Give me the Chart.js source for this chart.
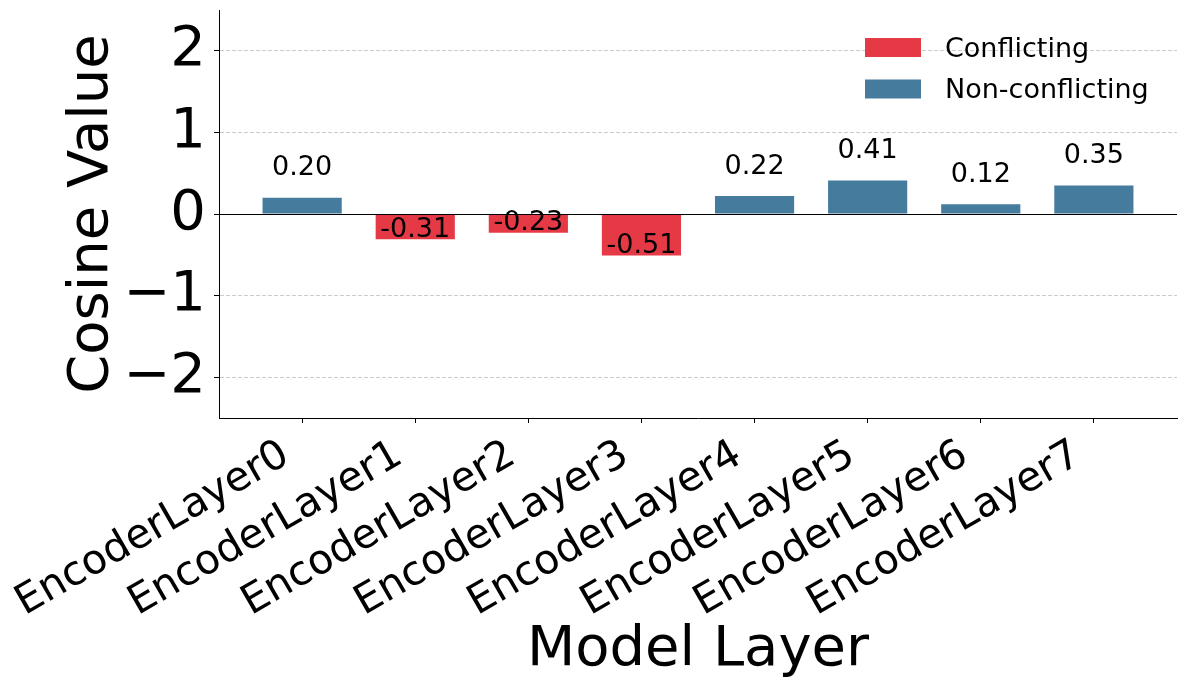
<!DOCTYPE html>
<html>
<head>
<meta charset="utf-8">
<script src="https://cdn.jsdelivr.net/npm/chart.js@4.4.1/dist/chart.umd.min.js"></script>
<style>
  html, body { margin: 0; padding: 0; background: #fff; }
  #wrap { width: 1187px; height: 690px; }
</style>
</head>
<body>
<div id="wrap"><canvas id="layerChart" width="1187" height="690"></canvas></div>
<script>
// ===== DATA =====
const categories = ['EncoderLayer0', 'EncoderLayer1', 'EncoderLayer2', 'EncoderLayer3',
                    'EncoderLayer4', 'EncoderLayer5', 'EncoderLayer6', 'EncoderLayer7'];
const conflicting    = [null, -0.31, -0.23, -0.51, null, null, null, null];
const nonConflicting = [0.20, null, null, null, 0.22, 0.41, 0.12, 0.35];
const yTicks = [-2, -1, 0, 1, 2];

const FONT = "'DejaVu Sans', sans-serif";
const RED = '#e63946';
const BLUE = '#457b9d';

const toPoints = arr => arr.map((v, i) => ({ x: i, y: v })).filter(p => p.y !== null);
const minus = v => String(v).replace('-', '\u2212');

// ===== PLUGINS =====
// zero line + value labels
const valueLabels = {
  id: 'valueLabels',
  afterDatasetsDraw(chart) {
    const { ctx, chartArea, scales: { y } } = chart;
    const y0 = Math.round(y.getPixelForValue(0)) + 0.5;
    ctx.save();
    ctx.strokeStyle = '#000';
    ctx.lineWidth = 1;
    ctx.beginPath();
    ctx.moveTo(chartArea.left, y0);
    ctx.lineTo(chartArea.right, y0);
    ctx.stroke();

    ctx.fillStyle = '#000';
    ctx.font = '27px ' + FONT;
    ctx.textAlign = 'center';
    ctx.textBaseline = 'alphabetic';
    chart.data.datasets.forEach((ds, di) => {
      const meta = chart.getDatasetMeta(di);
      meta.data.forEach((bar, i) => {
        const v = ds.data[i].y;
        const py = y.getPixelForValue(v);
        ctx.fillText(v.toFixed(2), bar.x, v >= 0 ? py - 22.5 : py - 2.3);
      });
    });
    ctx.restore();
  }
};

// legend in upper right, stacked rows
const cornerLegend = {
  id: 'cornerLegend',
  afterDraw(chart) {
    const { ctx } = chart;
    ctx.save();
    ctx.font = '27px ' + FONT;
    ctx.textAlign = 'left';
    ctx.textBaseline = 'alphabetic';
    chart.data.datasets.forEach((ds, i) => {
      const top = 38 + i * 41.5;
      ctx.fillStyle = ds.backgroundColor;
      ctx.fillRect(865, top, 56, 19);
      ctx.fillStyle = '#000';
      ctx.fillText(ds.label, 945, top + 18.5);
    });
    ctx.restore();
  }
};

// ===== CHART =====
const ctx = document.getElementById('layerChart').getContext('2d');
new Chart(ctx, {
  type: 'bar',
  data: {
    datasets: [
      { label: 'Conflicting', data: toPoints(conflicting), backgroundColor: RED, grouped: false },
      { label: 'Non-conflicting', data: toPoints(nonConflicting), backgroundColor: BLUE, grouped: false }
    ]
  },
  options: {
    responsive: false,
    devicePixelRatio: 1,
    animation: false,
    barPercentage: 0.7,
    categoryPercentage: 1,
    layout: { padding: { top: 10, right: 10, left: 0, bottom: 0 } },
    plugins: {
      legend: { display: false },
      tooltip: { enabled: false }
    },
    scales: {
      x: {
        type: 'linear',
        min: -0.735,
        max: 7.735,
        offset: false,
        afterBuildTicks: s => { s.ticks = categories.map((c, i) => ({ value: i })); },
        afterFit: s => { s.height = 272; s.paddingLeft = 0; s.paddingRight = 0; },
        grid: { offset: false, drawOnChartArea: false, drawTicks: true, tickLength: 5, tickColor: '#000', tickWidth: 1 },
        border: { display: true, color: '#000', width: 1 },
        ticks: {
          autoSkip: false,
          minRotation: 30,
          maxRotation: 30,
          padding: 8,
          labelOffset: -16,
          color: '#000',
          font: { family: FONT, size: 41 },
          callback: v => categories[v]
        },
        title: {
          display: true,
          text: 'Model Layer',
          color: '#000',
          font: { family: FONT, size: 56, lineHeight: 1 },
          padding: { top: 0, bottom: 12 }
        }
      },
      y: {
        min: -2.5,
        max: 2.5,
        afterBuildTicks: s => { s.ticks = yTicks.map(v => ({ value: v })); },
        afterFit: s => { s.width = 219; s.paddingTop = 0; s.paddingBottom = 0; },
        grid: {
          color: c => (c.tick && c.tick.value === 0) ? 'rgba(0,0,0,0)' : '#cccccc',
          lineWidth: 1,
          drawTicks: true,
          tickLength: 5,
          tickColor: '#000',
          tickBorderDash: []
        },
        border: { display: true, color: '#000', width: 1, dash: [4, 2] },
        ticks: {
          padding: 8,
          color: '#000',
          font: { family: FONT, size: 56 },
          callback: v => minus(v)
        },
        title: {
          display: true,
          text: 'Cosine Value',
          color: '#000',
          font: { family: FONT, size: 56, lineHeight: 1 },
          padding: { top: 64, bottom: 0 }
        }
      }
    }
  },
  plugins: [valueLabels, cornerLegend]
});
</script>
</body>
</html>
